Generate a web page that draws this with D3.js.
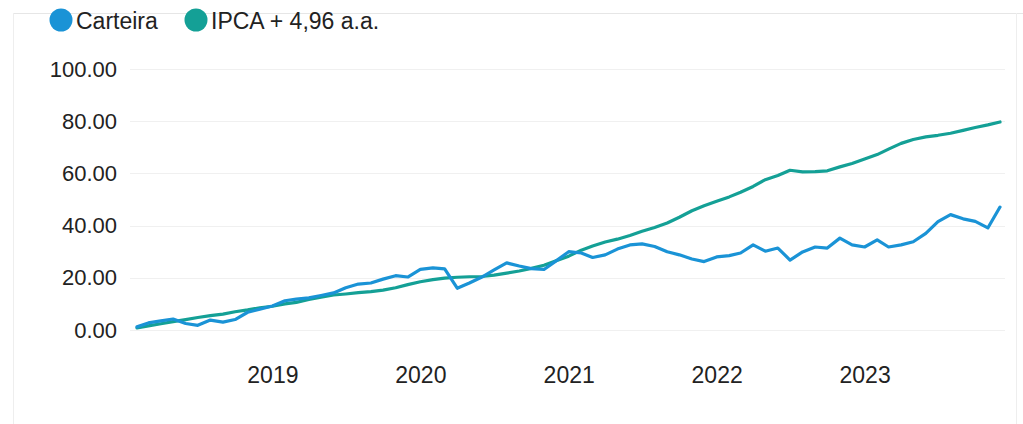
<!DOCTYPE html>
<html><head><meta charset="utf-8">
<script src="https://cdn.jsdelivr.net/npm/d3@7"></script>
<style>
html,body{margin:0;padding:0;background:#fff;}
svg{display:block;font-family:"Liberation Sans",Arial,sans-serif;}
</style></head>
<body>
<svg id="chart" width="1023" height="424"></svg>
<script>
const startMonth = "2018-02";
const endMonth = "2023-12";
const seriesNames = ["Carteira", "IPCA + 4,96 a.a."];
const carteira = [1.2,2.7,3.5,4.2,2.5,1.8,3.8,3.0,4.0,6.8,8.0,9.2,
  11.2,11.8,12.3,13.2,14.2,16.2,17.6,18.0,19.5,20.8,20.3,23.2,
  23.8,23.4,16.0,18.0,20.3,23.0,25.7,24.5,23.5,23.2,26.5,30.0,
  29.5,27.8,28.8,31.0,32.6,33.0,32.0,30.0,28.8,27.2,26.2,28.0,
  28.5,29.5,32.6,30.2,31.4,26.8,29.9,31.8,31.4,35.2,32.6,31.8,
  34.5,31.8,32.6,33.8,37.0,41.5,44.2,42.6,41.6,39.1,47.1];
const ipca = [0.8,1.6,2.4,3.2,4.0,4.8,5.5,6.1,7.0,7.7,8.5,9.1,
  10.0,10.6,11.7,12.6,13.4,13.8,14.3,14.7,15.3,16.2,17.4,18.5,
  19.3,19.9,20.2,20.4,20.5,21.0,21.8,22.6,23.6,24.8,26.5,28.3,
  30.6,32.2,33.7,34.8,36.2,37.8,39.3,41.0,43.2,45.7,47.6,49.3,
  51.0,52.8,55.0,57.6,59.2,61.2,60.6,60.7,61.0,62.5,63.8,65.5,
  67.2,69.3,71.5,73.0,74.0,74.6,75.4,76.5,77.6,78.6,79.7];
const yTicks = [0,20,40,60,80,100];
const xTickYears = [2019,2020,2021,2022,2023];

const colors = ["#1a93d6", "#14a096"];

const parse = d3.timeParse("%Y-%m");
const months = d3.timeMonth.range(parse(startMonth), d3.timeMonth.offset(parse(endMonth),1));

const svg = d3.select("#chart");
const x = d3.scaleTime().domain([months[0], months[months.length-1]]).range([137, 1000]);
const y = d3.scaleLinear().domain([0,100]).range([330, 69]);

// card frame
svg.append("line").attr("x1",13).attr("x2",1023).attr("y1",13.5).attr("y2",13.5).attr("stroke","#e6e6e6");
svg.append("line").attr("x1",13.5).attr("x2",13.5).attr("y1",13).attr("y2",424).attr("stroke","#eeeeee");
svg.append("line").attr("x1",1016.5).attr("x2",1016.5).attr("y1",13).attr("y2",424).attr("stroke","#eeeeee");

// grid
svg.append("g").selectAll("line").data(yTicks).join("line")
  .attr("x1",130).attr("x2",1005)
  .attr("y1",d=>Math.round(y(d))+0.5).attr("y2",d=>Math.round(y(d))+0.5)
  .attr("stroke","#f0f0f0");

// y axis
const yAxis = d3.axisLeft(y).tickValues(yTicks).tickFormat(d3.format(".2f")).tickSize(0).tickPadding(0);
const gy = svg.append("g").attr("transform","translate(117,0)").call(yAxis);
gy.select(".domain").remove();
gy.selectAll("text").attr("font-size",22).attr("fill","#222").attr("font-family","Liberation Sans, Arial, sans-serif");

// x axis
const xAxis = d3.axisBottom(x).tickValues(xTickYears.map(yr=>new Date(yr,0,1))).tickFormat(d3.timeFormat("%Y")).tickSize(0).tickPadding(0);
const gx = svg.append("g").attr("transform","translate(0,367)").call(xAxis);
gx.select(".domain").remove();
gx.selectAll("text").attr("font-size",23).attr("fill","#222").attr("font-family","Liberation Sans, Arial, sans-serif");

// lines
const line = d3.line().x((d,i)=>x(months[i])).y(d=>y(d)).curve(d3.curveLinear);
[ipca, carteira].forEach((s,k)=>{
  const c = k===0 ? colors[1] : colors[0];
  svg.append("path").datum(s).attr("d",line).attr("fill","none")
    .attr("stroke",c).attr("stroke-width",3.2).attr("stroke-linejoin","round").attr("stroke-linecap","round");
});

// legend
const legendX = [61, 196];
const lg = svg.append("g");
seriesNames.forEach((n,i)=>{
  lg.append("circle").attr("cx",legendX[i]).attr("cy",20).attr("r",11.5).attr("fill",colors[i]);
  lg.append("text").attr("x",legendX[i]+15).attr("y",29).attr("font-size",23).attr("fill","#222").text(n);
});
</script>
</body></html>
